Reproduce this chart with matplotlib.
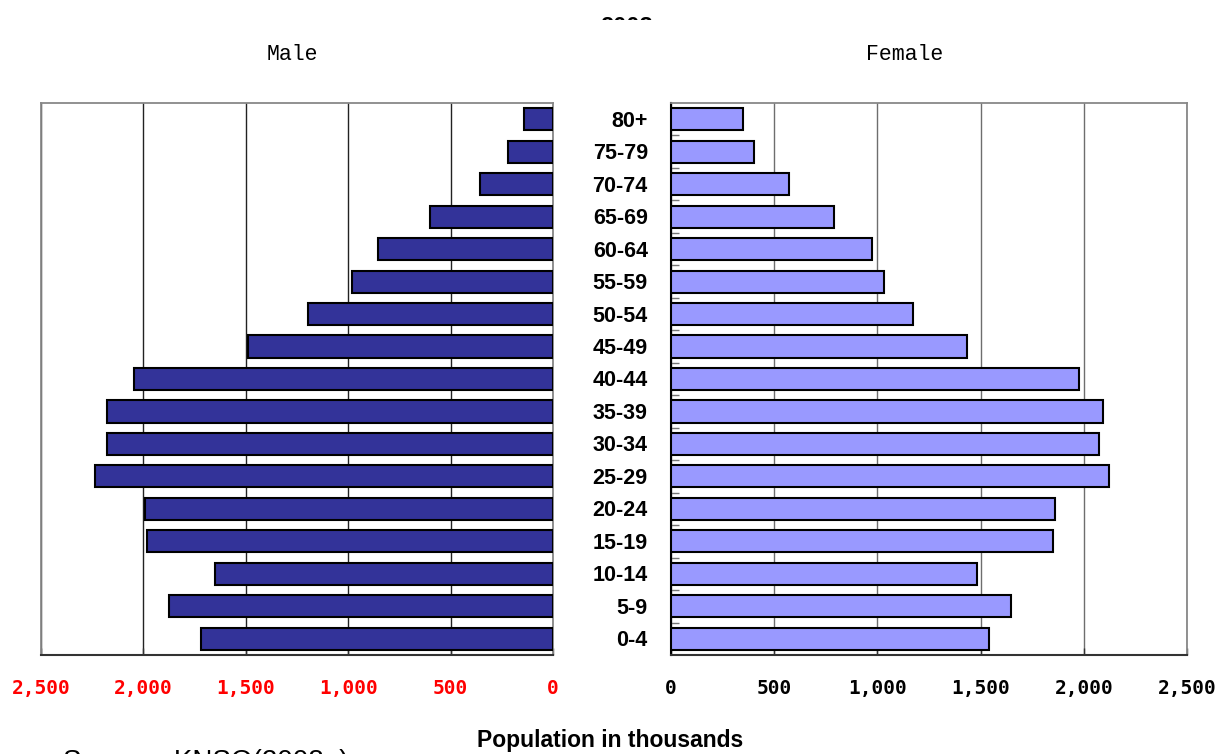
import matplotlib.pyplot as plt
from matplotlib.patches import Rectangle
from matplotlib.ticker import FuncFormatter

age_groups = ["0-4", "5-9", "10-14", "15-19", "20-24", "25-29", "30-34", "35-39",
              "40-44", "45-49", "50-54", "55-59", "60-64", "65-69", "70-74",
              "75-79", "80+"]
# population in thousands, youngest to oldest
male = [1717, 1875, 1652, 1980, 1991, 2236, 2180, 2178, 2046, 1487, 1194,
        980, 854, 600, 356, 219, 140]
female = [1541, 1649, 1483, 1852, 1862, 2124, 2074, 2093, 1978, 1434, 1173,
          1031, 975, 789, 573, 401, 351]
x_ticks = [0, 500, 1000, 1500, 2000, 2500]

MALE_COLOR = "#333399"
FEMALE_COLOR = "#9999FF"

W, H = 1229, 754
fig = plt.figure(figsize=(W / 100, H / 100), dpi=100)


def frac_x(px):
    return px / W


def frac_y(py):
    return 1 - py / H


top, bottom = 103, 655
ax_m = fig.add_axes([frac_x(41), frac_y(bottom), frac_x(553 - 41), (bottom - top) / H])
ax_f = fig.add_axes([frac_x(671), frac_y(bottom), frac_x(1187 - 671), (bottom - top) / H])

ypos = list(range(len(age_groups)))
fmt = FuncFormatter(lambda v, _: f"{int(v):,}")

for ax, vals, color, grid_c in [(ax_m, male, MALE_COLOR, "#222222"),
                                (ax_f, female, FEMALE_COLOR, "#6e6e6e")]:
    ax.barh(ypos, vals, height=0.68, color=color, edgecolor="black",
            linewidth=1.5, zorder=3)
    ax.set_xlim(0, 2500)
    ax.set_ylim(-0.5, len(age_groups) - 0.5)
    ax.set_xticks(x_ticks)
    ax.xaxis.set_major_formatter(fmt)
    ax.grid(axis="x", color=grid_c, linewidth=1.0, zorder=1)
    ax.tick_params(axis="x", direction="in", length=5, width=1, pad=17,
                   color="#333333")
    for lab in ax.get_xticklabels():
        lab.set_fontfamily("DejaVu Sans Mono")
        lab.set_fontweight("bold")
        lab.set_fontsize(14)
    for side in ["top", "right", "left"]:
        ax.spines[side].set_color("#888888")
        ax.spines[side].set_linewidth(1.3)
    ax.spines["bottom"].set_color("#333333")
    ax.spines["bottom"].set_linewidth(1.5)

# male side grows to the left
ax_m.invert_xaxis()
ax_m.set_yticks([])
for lab in ax_m.get_xticklabels():
    lab.set_color("red")

# female side: small boundary ticks on the left spine
ax_f.spines["left"].set_color("black")
ax_f.spines["left"].set_linewidth(1.5)
ax_f.set_yticks([y + 0.5 for y in ypos[:-1]])
ax_f.set_yticklabels([])
ax_f.tick_params(axis="y", direction="in", length=6, width=1, color="#777777")

# age group labels between the two panels
for y, label in zip(ypos, age_groups):
    ax_f.text(-0.045, y - 0.06, label, transform=ax_f.get_yaxis_transform(),
              ha="right", va="center", fontsize=15.5, fontweight="bold",
              family="Liberation Sans")

fig.text(frac_x(292), frac_y(55), "Male", ha="center", va="center",
         fontsize=15.5, family="Liberation Mono")
fig.text(frac_x(905), frac_y(55), "Female", ha="center", va="center",
         fontsize=15.5, family="Liberation Mono")

fig.text(frac_x(610), frac_y(740), "Population in thousands", ha="center",
         va="center", fontsize=16.5, fontweight="bold", family="Liberation Sans")

# title and source sit partly outside the printable area
title = fig.text(frac_x(626), frac_y(28), "2008", ha="center", va="center",
                 fontsize=17, fontweight="bold", family="Liberation Sans")
title.set_clip_path(Rectangle((0, frac_y(20)), 1, 1, transform=fig.transFigure))

fig.text(frac_x(63), frac_y(749), "Source : KNSO(2008a)", ha="left", va="top",
         fontsize=20, family="Liberation Sans")

fig.savefig("out.png", dpi=100)
